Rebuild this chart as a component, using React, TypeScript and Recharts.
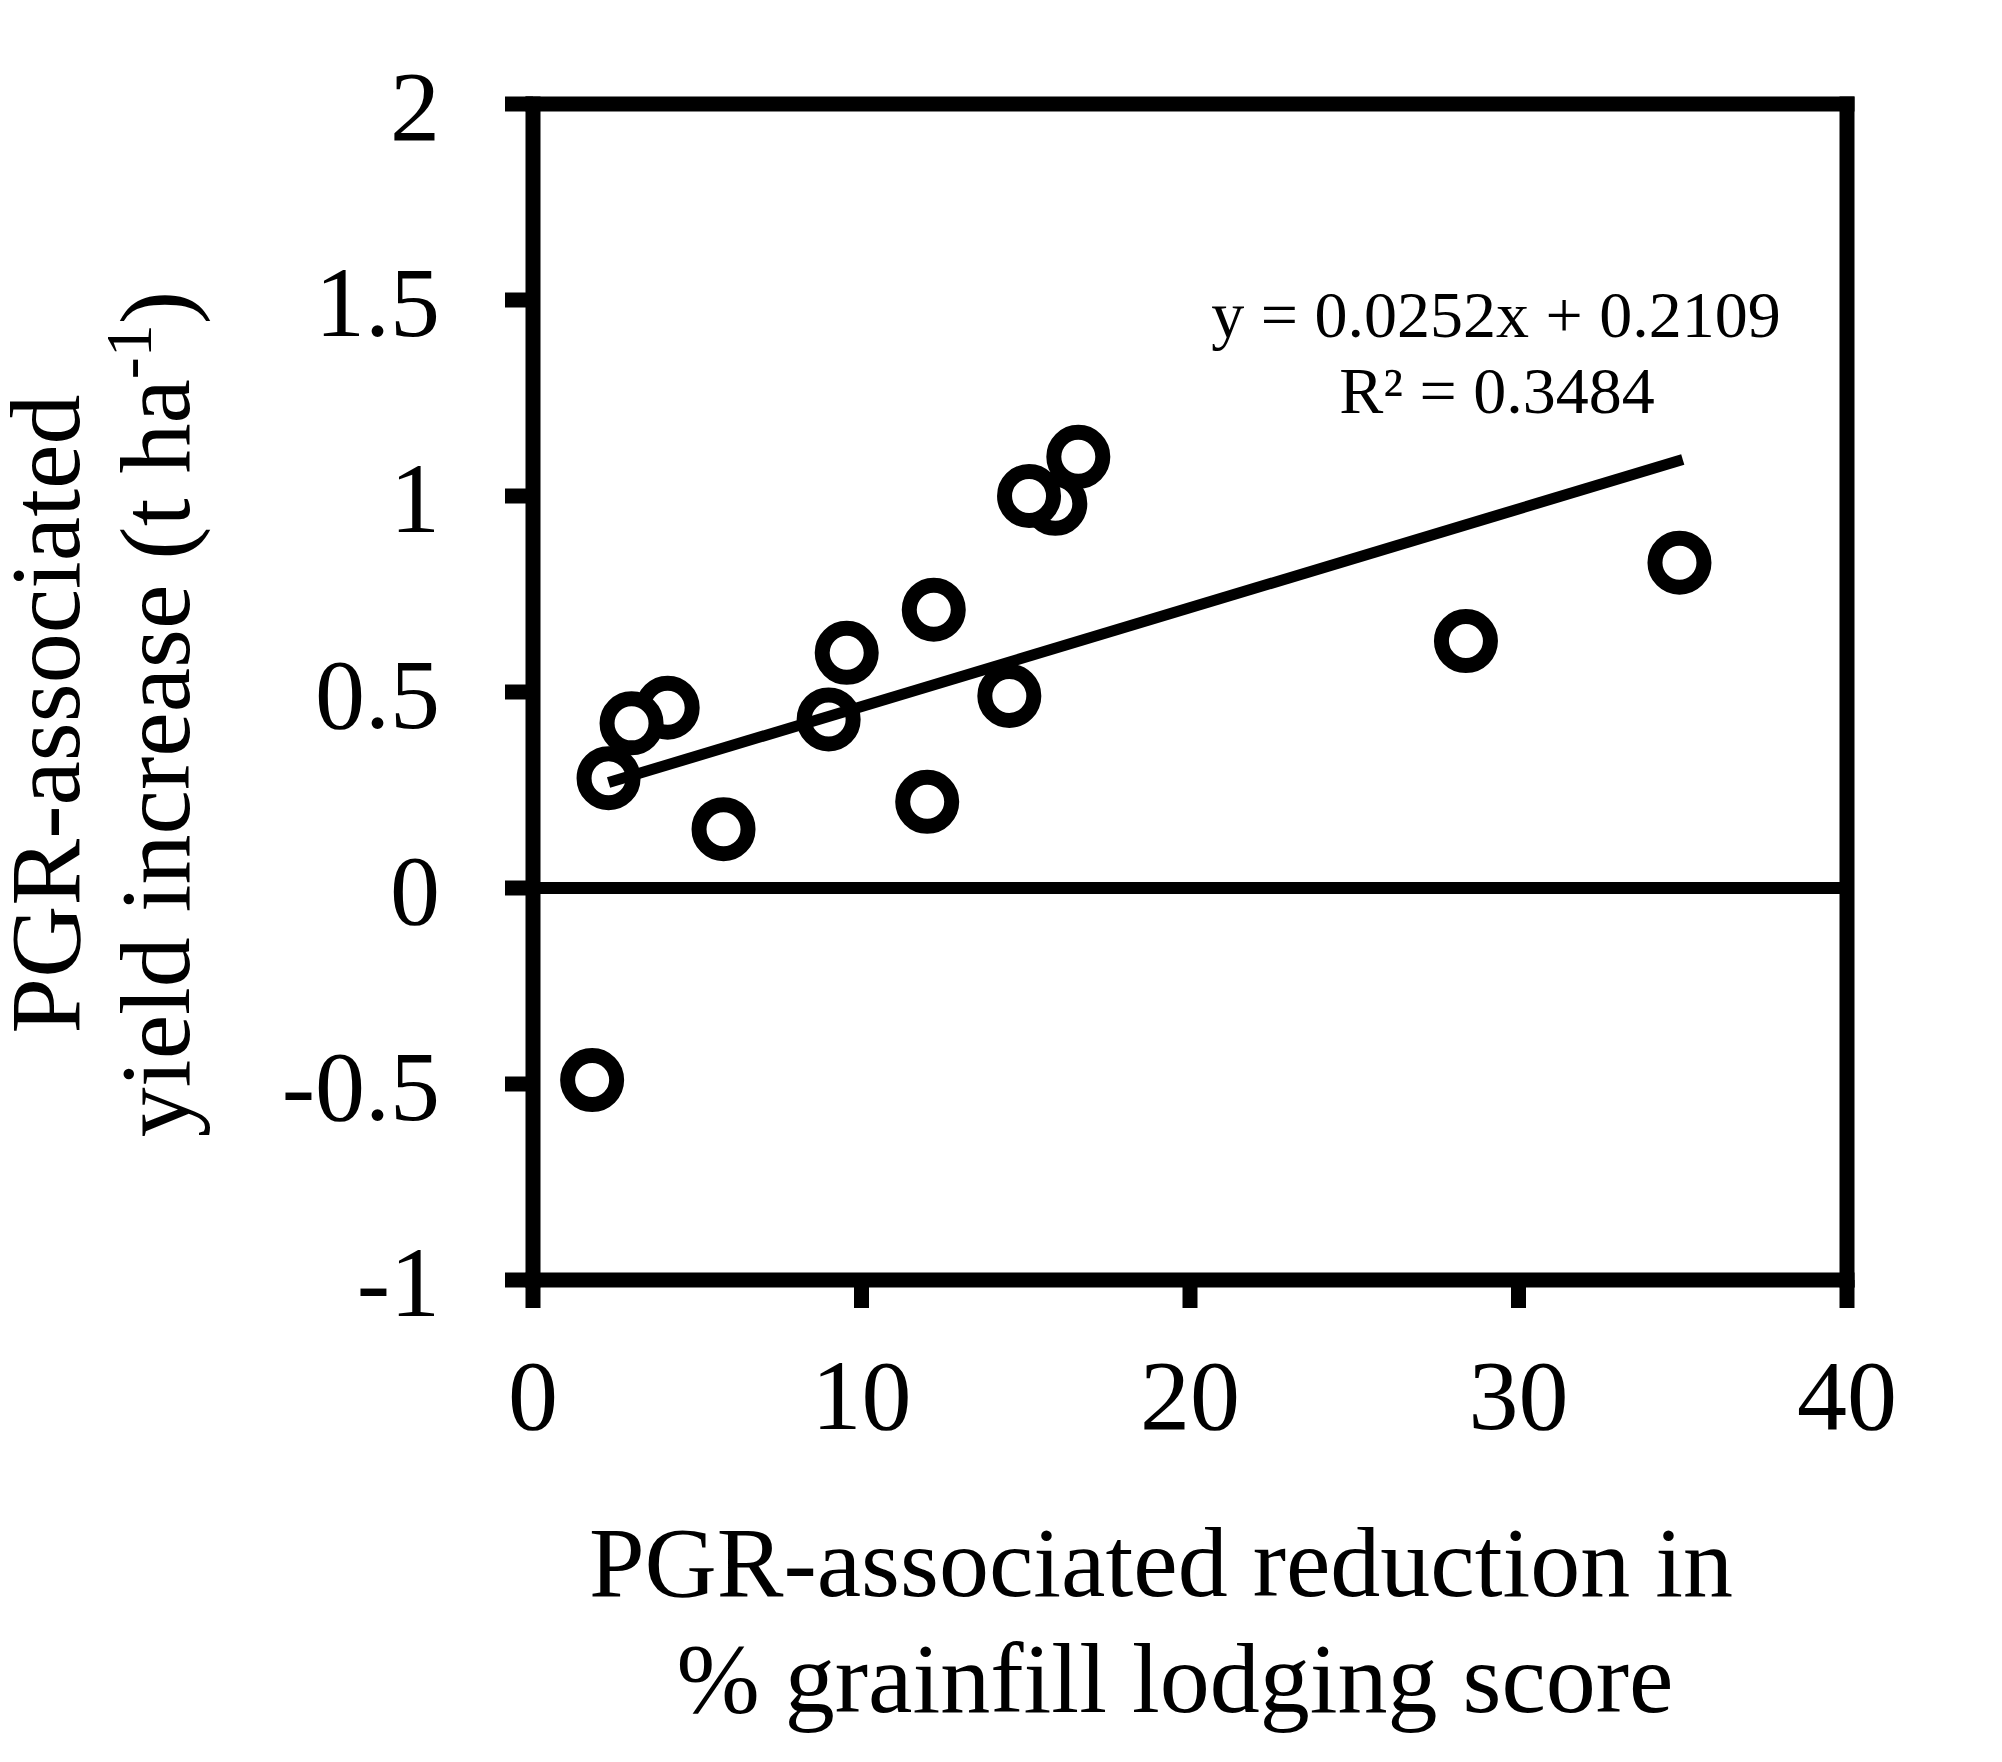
import { ScatterChart, Scatter, XAxis, YAxis, ReferenceLine } from "recharts";

// % grainfill lodging score reduction vs yield increase
const lodgingReduction = [1.8, 4.1, 3.0, 2.3, 5.8, 9.55, 9.0, 12.0, 12.2, 14.5, 15.9, 15.1, 16.6, 28.4, 34.9];
const yieldIncrease = [-0.49, 0.46, 0.42, 0.28, 0.15, 0.6, 0.43, 0.22, 0.71, 0.49, 0.98, 1.0, 1.1, 0.63, 0.83];

// trendline end points as drawn
const trendX = [2.3, 35];
const trendY = [0.269, 1.093];

const xTicks = [0, 10, 20, 30, 40];
const yTicks = [-1, -0.5, 0, 0.5, 1, 1.5, 2];

const points = lodgingReduction.map((x, i) => ({ x, y: yieldIncrease[i] }));
const trend = trendX.map((x, i) => ({ x, y: trendY[i] }));

const FONT = "'Liberation Serif', 'Times New Roman', serif";
const tickStyle = { fill: "#000", fontSize: 100, fontFamily: FONT };

const Ring = (props: any) => (
  <circle cx={props.cx} cy={props.cy} r={24.5} fill="#fff" stroke="#000" strokeWidth={15} />
);

const NoDot = () => <g />;

const XLabel = (props: any) => {
  const vb = props.viewBox;
  const cx = vb.x + vb.width / 2;
  return (
    <g fontFamily={FONT} fontSize={100} fill="#000">
      <text x={cx - 29} y={1596} textAnchor="middle">
        PGR-associated reduction in
      </text>
      <text x={cx - 15} y={1712} textAnchor="middle">
        % grainfill lodging score
      </text>
    </g>
  );
};

const YLabel = (props: any) => {
  const vb = props.viewBox;
  const cy = vb.y + vb.height / 2 + 22;
  return (
    <g fontFamily={FONT} fontSize={100} fill="#000">
      <text x={79} y={cy} textAnchor="middle" transform={`rotate(-90, 79, ${cy})`}>
        PGR-associated
      </text>
      <text x={189} y={cy} textAnchor="middle" transform={`rotate(-90, 189, ${cy})`}>
        yield increase (t ha
        <tspan fontSize={66} dy={-38}>-1</tspan>
        <tspan dy={38}>)</tspan>
      </text>
    </g>
  );
};

export default function App() {
  return (
    <div style={{ position: "absolute", left: 0, top: 0, background: "#fff" }}>
      <ScatterChart
        width={2002}
        height={1762}
        margin={{ top: 104, right: 155, bottom: 182, left: 0 }}
      >
        <XAxis
          type="number"
          dataKey="x"
          domain={[0, 40]}
          ticks={xTicks}
          height={300}
          stroke="#000"
          axisLine={{ stroke: "#000", strokeWidth: 15, strokeLinecap: "square" }}
          tickLine={{ stroke: "#000", strokeWidth: 15 }}
          tickSize={28}
          tickMargin={50}
          tick={tickStyle}
          label={{ content: (p: any) => <XLabel {...p} /> }}
        />
        <YAxis
          type="number"
          dataKey="y"
          domain={[-1, 2]}
          ticks={yTicks}
          width={533}
          stroke="#000"
          axisLine={{ stroke: "#000", strokeWidth: 15, strokeLinecap: "square" }}
          tickLine={{ stroke: "#000", strokeWidth: 15 }}
          tickSize={28}
          tickMargin={65}
          tick={tickStyle}
          label={{ content: (p: any) => <YLabel {...p} /> }}
        />
        <ReferenceLine y={2} stroke="#000" strokeWidth={15} strokeLinecap="square" />
        <ReferenceLine x={40} stroke="#000" strokeWidth={15} strokeLinecap="square" />
        <ReferenceLine y={0} stroke="#000" strokeWidth={12} />
        <Scatter data={points} shape={Ring} isAnimationActive={false} />
        <Scatter
          data={trend}
          line={{ stroke: "#000", strokeWidth: 11 }}
          shape={NoDot}
          isAnimationActive={false}
        />
        <g fontFamily={FONT} fontSize={66} fill="#000">
          <text x={1496} y={337} textAnchor="middle">y = 0.0252x + 0.2109</text>
          <text x={1497} y={413} textAnchor="middle">R² = 0.3484</text>
        </g>
      </ScatterChart>
    </div>
  );
}
